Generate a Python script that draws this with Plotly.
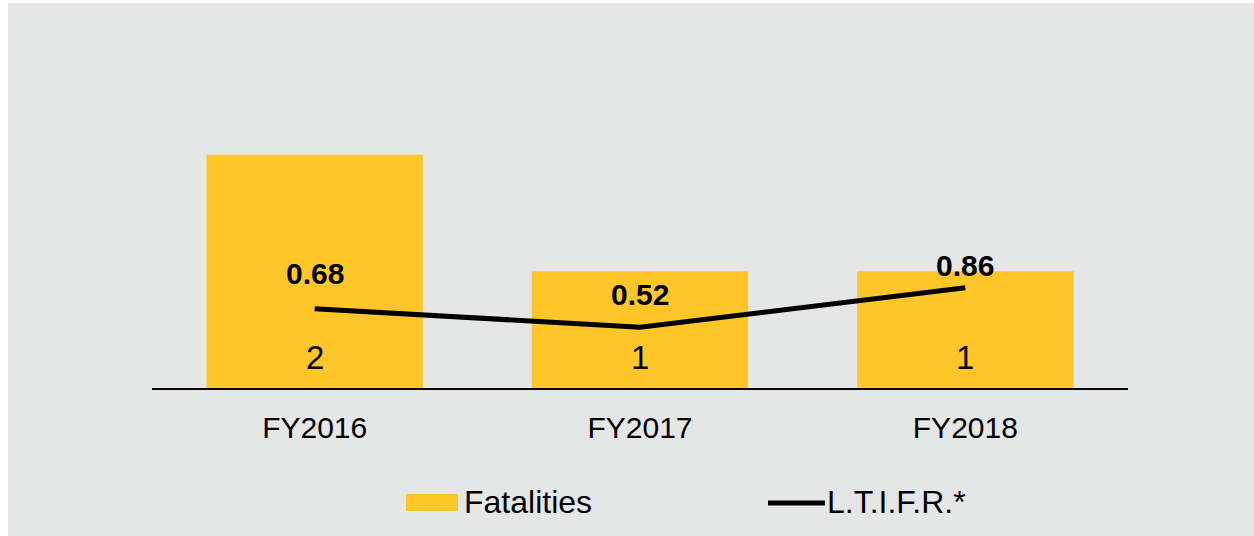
import plotly.graph_objects as go

categories = ["FY2016", "FY2017", "FY2018"]
fatalities = [2, 1, 1]
ltifr = [0.68, 0.52, 0.86]
ltifr_labels = ["0.68", "0.52", "0.86"]
fatal_labels = ["2", "1", "1"]
series_names = ["Fatalities", "L.T.I.F.R.*"]

BAR = "#FEC629"
BG = "#E5E7E6"
FONT = "Liberation Sans, Arial, sans-serif"

W, H = 1254, 536
ML, MR, MT, MB = 152, 126, 38, 148
PW, PH = W - ML - MR, H - MT - MB

def px(x):
    return (x - ML) / PW

def py(y):
    return (H - MB - y) / PH

fig = go.Figure()
fig.add_trace(go.Bar(x=categories, y=fatalities, name=series_names[0],
                     marker=dict(color=BAR, line=dict(width=0)), width=0.665,
                     showlegend=False, hoverinfo="skip"))
fig.add_trace(go.Scatter(x=categories, y=ltifr, name=series_names[1], mode="lines",
                         line=dict(color="black", width=5), showlegend=False,
                         hoverinfo="skip"))

label_shift = [35, 33, 22]
for c, v, t, s in zip(categories, ltifr, ltifr_labels, label_shift):
    fig.add_annotation(x=c, y=v, text=t, showarrow=False, yshift=s, yanchor="middle",
                       font=dict(family=FONT, size=30, color="black", weight="bold"))
for c, t in zip(categories, fatal_labels):
    fig.add_annotation(x=c, y=0, text=t, showarrow=False, yshift=31, yanchor="middle",
                       font=dict(family=FONT, size=33, color="black"))

# background panel
fig.add_shape(type="rect", xref="paper", yref="paper", x0=px(8), x1=px(W + 5),
              y0=py(H + 5), y1=py(3), fillcolor=BG, line=dict(width=0), layer="below")

# manual legend
fig.add_shape(type="rect", xref="paper", yref="paper", x0=px(406), x1=px(458),
              y0=py(511), y1=py(494), fillcolor=BAR, line=dict(width=0))
fig.add_annotation(xref="paper", yref="paper", x=px(462), y=py(502), xanchor="left",
                   yanchor="middle", text=series_names[0], showarrow=False,
                   font=dict(family=FONT, size=32, color="black"))
fig.add_shape(type="line", xref="paper", yref="paper", x0=px(768), x1=px(825),
              y0=py(503), y1=py(503), line=dict(color="black", width=5))
fig.add_annotation(xref="paper", yref="paper", x=px(825), y=py(502), xanchor="left",
                   yanchor="middle", text=series_names[1], showarrow=False,
                   font=dict(family=FONT, size=32, color="black"))

fig.update_layout(
    width=W, height=H,
    margin=dict(l=ML, r=MR, t=MT, b=MB, pad=0),
    paper_bgcolor="white", plot_bgcolor="rgba(0,0,0,0)",
    showlegend=False, bargap=0.335,
    font=dict(family=FONT, color="black"),
)
fig.update_xaxes(range=[-0.5, 2.5], showline=True, linecolor="black", linewidth=2,
                 ticks="", showgrid=False, zeroline=False,
                 tickfont=dict(family=FONT, size=30, color="black"),
                 ticklabelstandoff=12)
fig.update_yaxes(range=[0, 3], visible=False, showgrid=False, zeroline=False)

fig.write_html("out.html", config={"displayModeBar": False},
               post_script="document.body.style.margin='0';")
